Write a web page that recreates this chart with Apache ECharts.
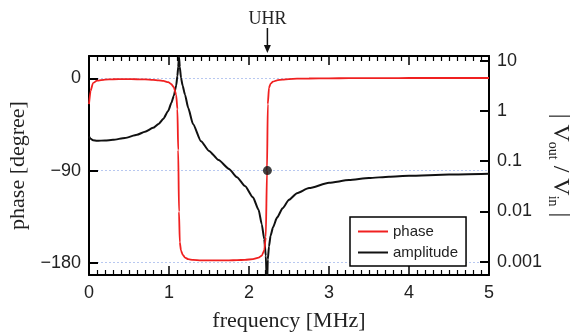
<!DOCTYPE html>
<html>
<head>
<meta charset="utf-8">
<script src="https://cdn.jsdelivr.net/npm/echarts@6/dist/echarts.min.js"></script>
<style>
  html, body { margin: 0; padding: 0; background: #fff; }
  #chart { width: 570px; height: 333px; }
</style>
</head>
<body>
<div id="chart"></div>
<script>
// frequency [MHz]
const freq = [0, 0.02, 0.05, 0.1, 0.2, 0.3, 0.45, 0.6, 0.7, 0.8, 0.87, 0.93, 0.99, 1.03, 1.06, 1.09,
  1.105, 1.115, 1.125, 1.135, 1.15, 1.17, 1.2, 1.24, 1.3, 1.4, 1.5, 1.62, 1.75, 1.85, 1.95, 2.05,
  2.12, 2.16, 2.19, 2.21, 2.225, 2.235, 2.25, 2.27, 2.3, 2.35, 2.42, 2.5, 2.6, 2.75, 3.0, 3.25,
  3.5, 3.75, 4.0, 4.5, 5.0];
// phase [degree]
const phase = [-25, -12, -4.5, -2, -1, -0.7, -0.6, -0.7, -0.9, -1.3, -1.8, -2.4, -3.5, -5.5, -8.5, -16,
  -30, -70, -130, -160, -168, -172, -175, -176.5, -177.3, -177.7, -177.8, -177.8, -177.7, -177.5, -177.2, -176.5,
  -175, -173, -168, -155, -90, -25, -9, -5, -3, -1.8, -1, -0.5, -0.2, 0, 0.2, 0.3,
  0.4, 0.45, 0.5, 0.5, 0.5];
// |Vout / Vin|
const amplitude = [0.31, 0.28, 0.26, 0.254, 0.258, 0.265, 0.29, 0.335, 0.385, 0.46, 0.55, 0.7, 1.0, 1.45, 2.0, 3.2,
  5.0, 7.5, 12, 7.5, 4.6, 3.2, 2.1, 1.15, 0.55, 0.25, 0.16, 0.105, 0.07, 0.048, 0.032, 0.019,
  0.0107, 0.0055, 0.0028, 0.0013, 0.0003, 0.0011, 0.002, 0.0033, 0.0048, 0.0075, 0.0115, 0.017, 0.023, 0.029, 0.037, 0.042,
  0.046, 0.049, 0.051, 0.054, 0.056];

const phaseTicks = [0, -90, -180];
const uhrFreq = 2.23;
const uhrPhase = -90;

const sansFont = 'Liberation Sans, Arial, sans-serif';
const serifFont = 'Liberation Serif, Times New Roman, serif';

const chart = echarts.init(document.getElementById('chart'), null, { renderer: 'canvas' });

const frameLine = { show: true, onZero: false, lineStyle: { color: '#000', width: 2 } };

const option = {
  animation: false,
  backgroundColor: '#fff',
  grid: { left: 89, right: 81, top: 56, bottom: 58, outerBoundsMode: 'none', containLabel: false },
  legend: {
    data: ['phase', 'amplitude'],
    orient: 'vertical',
    left: 350,
    top: 217,
    padding: [6, 8, 5, 8],
    itemGap: 4,
    itemWidth: 30,
    itemHeight: 2,
    icon: 'rect',
    backgroundColor: '#fff',
    borderColor: '#000',
    borderWidth: 1.5,
    borderRadius: 0,
    textStyle: { fontSize: 15, fontFamily: sansFont, color: '#222', lineHeight: 17 }
  },
  xAxis: [{
    type: 'value',
    position: 'bottom',
    min: 0,
    max: 5,
    interval: 1,
    name: 'frequency [MHz]',
    nameLocation: 'middle',
    nameGap: 35,
    nameTextStyle: { fontSize: 22, fontFamily: serifFont, color: '#222' },
    axisLine: frameLine,
    axisTick: { inside: true, length: 9, lineStyle: { color: '#000', width: 1.5 } },
    minorTick: { show: true, splitNumber: 10, length: 5, lineStyle: { color: '#000', width: 1.2 } },
    axisLabel: { fontSize: 18, fontFamily: sansFont, color: '#222', margin: 9 },
    splitLine: { show: false }
  }, {
    type: 'value',
    position: 'top',
    min: 0,
    max: 5,
    interval: 1,
    axisLine: frameLine,
    axisTick: { inside: true, length: 9, lineStyle: { color: '#000', width: 1.5 } },
    minorTick: { show: true, splitNumber: 10, length: 5, lineStyle: { color: '#000', width: 1.2 } },
    axisLabel: { show: false },
    splitLine: { show: false }
  }],
  yAxis: [{
    type: 'value',
    position: 'left',
    min: -192,
    max: 22,
    name: 'phase [degree]',
    nameLocation: 'middle',
    nameGap: 53,
    nameTextStyle: { fontSize: 22, fontFamily: serifFont, color: '#222' },
    axisLine: frameLine,
    axisTick: { inside: true, length: 9, customValues: phaseTicks, lineStyle: { color: '#000', width: 2 } },
    axisLabel: {
      customValues: phaseTicks,
      fontSize: 18, fontFamily: sansFont, color: '#222', margin: 8,
      formatter: v => String(v).replace('-', '\u2212')
    },
    splitLine: { show: true, lineStyle: { color: '#b8c8f0', type: [2, 2], width: 1 } }
  }, {
    type: 'log',
    position: 'right',
    min: 0.00054,
    max: 12.4,
    name: '{m|| V}{s|out}{m| / V}{s|in}{m| |}',
    nameLocation: 'middle',
    nameGap: 57,
    nameMoveOverlap: false,
    nameRotate: -90,
    nameTextStyle: {
      fontSize: 24,
      fontFamily: serifFont,
      color: '#222',
      rich: {
        m: { fontSize: 24, fontFamily: serifFont, color: '#222', lineHeight: 28, verticalAlign: 'middle' },
        s: { fontSize: 14, fontFamily: serifFont, color: '#222', lineHeight: 14, verticalAlign: 'bottom' }
      }
    },
    axisLine: frameLine,
    axisTick: { inside: true, length: 9, lineStyle: { color: '#000', width: 2 } },
    axisLabel: {
      showMinLabel: false, showMaxLabel: false,
      fontSize: 18, fontFamily: sansFont, color: '#222', margin: 8,
      formatter: v => String(+v.toPrecision(3))
    },
    splitLine: { show: false }
  }],
  series: [{
    name: 'phase',
    type: 'line',
    xAxisIndex: 0,
    yAxisIndex: 0,
    data: freq.map((f, i) => [f, phase[i]]),
    symbol: 'none',
    smooth: 0.2,
    smoothMonotone: 'x',
    lineStyle: { color: '#f02020', width: 1.8 },
    itemStyle: { color: '#f02020' },
    z: 3
  }, {
    name: 'amplitude',
    type: 'line',
    xAxisIndex: 0,
    yAxisIndex: 1,
    data: freq.map((f, i) => [f, amplitude[i]]),
    symbol: 'none',
    smooth: 0.2,
    smoothMonotone: 'x',
    lineStyle: { color: '#111', width: 2 },
    itemStyle: { color: '#111' },
    z: 2
  }, {
    name: 'UHR',
    type: 'scatter',
    xAxisIndex: 0,
    yAxisIndex: 0,
    data: [[uhrFreq, uhrPhase]],
    symbolSize: 9,
    itemStyle: { color: '#111' },
    z: 4
  }]
};

chart.setOption(option, { notMerge: true });

// UHR annotation above the top axis
const ux = chart.convertToPixel({ xAxisIndex: 0 }, uhrFreq);
chart.setOption({
  graphic: [{
    type: 'text',
    x: ux,
    y: 19,
    style: { text: 'UHR', fontSize: 18, fontFamily: serifFont, fill: '#222', align: 'center', verticalAlign: 'middle' }
  }, {
    type: 'line',
    shape: { x1: ux, y1: 28, x2: ux, y2: 48 },
    style: { stroke: '#111', lineWidth: 1.5 }
  }, {
    type: 'polygon',
    shape: { points: [[ux - 3.5, 45], [ux + 3.5, 45], [ux, 53]] },
    style: { fill: '#111' }
  }]
});
</script>
</body>
</html>
